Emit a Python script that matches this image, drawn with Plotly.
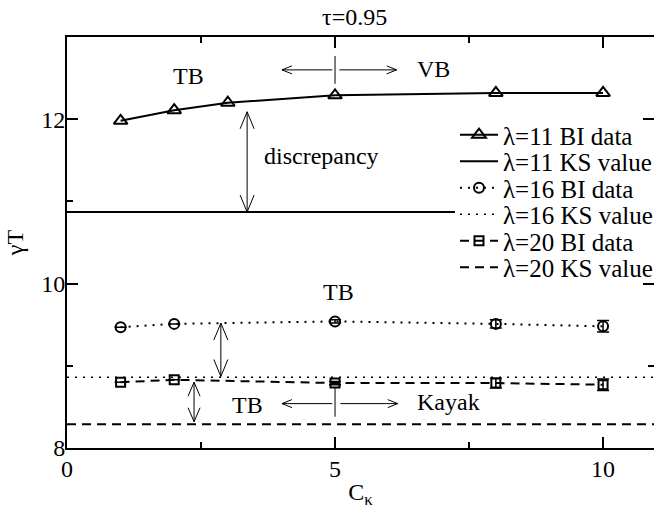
import plotly.graph_objects as go

# ---- data ----
ck11 = [1, 2, 3, 5, 8, 10]
bi11 = [11.98, 12.11, 12.20, 12.29, 12.32, 12.32]
ck16 = [1, 2, 5, 8, 10]
bi16 = [9.47, 9.51, 9.54, 9.51, 9.48]
err16 = [0, 0, 0.02, 0.05, 0.07]
ck20 = [1, 2, 5, 8, 10]
bi20 = [8.80, 8.83, 8.79, 8.79, 8.77]
err20 = [0, 0, 0.02, 0.06, 0.07]
ks11 = 10.87
ks16 = 8.86
ks20 = 8.29
x_span = [0, 11]
x_ticks = [0, 5, 10]
y_ticks = [8, 10, 12]
legend_names = ["λ=11 BI data", "λ=11 KS value", "λ=16 BI data",
                "λ=16 KS value", "λ=20 BI data", "λ=20 KS value"]

FONT = "Liberation Serif"
W, H = 654, 510
ML, MR, MT, MB = 67, 0, 37, 62
XR = [0, 10.95]
YR = [8, 13]
PW = W - ML - MR
PH = H - MT - MB
SX = PW / (XR[1] - XR[0])  # px per x unit
SY = PH / (YR[1] - YR[0])  # px per y unit

legend_ids = ["legend", "legend2", "legend3", "legend4", "legend5", "legend6"]

fig = go.Figure()

fig.add_trace(go.Scatter(
    x=ck11, y=bi11, mode="lines+markers", name=legend_names[0], legend=legend_ids[0],
    line=dict(color="black", width=2),
    marker=dict(symbol="triangle-up-open", size=12, color="black", line=dict(width=2, color="black"))))
fig.add_trace(go.Scatter(
    x=x_span, y=[ks11, ks11], mode="lines", name=legend_names[1], legend=legend_ids[1],
    line=dict(color="black", width=2)))
fig.add_trace(go.Scatter(
    x=ck16, y=bi16, mode="lines+markers", name=legend_names[2], legend=legend_ids[2],
    line=dict(color="black", width=2, dash="2px,6px"),
    marker=dict(symbol="circle-open", size=10, color="black", line=dict(width=2, color="black")),
    error_y=dict(type="data", array=err16, color="black", thickness=1.5, width=6)))
fig.add_trace(go.Scatter(
    x=x_span, y=[ks16, ks16], mode="lines", name=legend_names[3], legend=legend_ids[3],
    line=dict(color="black", width=1.5, dash="2px,6px")))
fig.add_trace(go.Scatter(
    x=ck20, y=bi20, mode="lines+markers", name=legend_names[4], legend=legend_ids[4],
    line=dict(color="black", width=2, dash="9px,6px"),
    marker=dict(symbol="square-open", size=9, color="black", line=dict(width=2, color="black")),
    error_y=dict(type="data", array=err20, color="black", thickness=1.5, width=6)))
fig.add_trace(go.Scatter(
    x=x_span, y=[ks20, ks20], mode="lines", name=legend_names[5], legend=legend_ids[5],
    line=dict(color="black", width=2, dash="9px,6px")))

# invisible trace on right axis so that mirrored ticks appear without a line
fig.add_trace(go.Scatter(x=[None], y=[None], yaxis="y2", showlegend=False, hoverinfo="skip"))

shapes = []


def seg(x0, y0, x1, y1, w=1):
    shapes.append(dict(type="line", xref="x", yref="y", x0=x0, y0=y0, x1=x1, y1=y1,
                       line=dict(color="black", width=w)))


def head(xt, yt, xf, yf, L, Hw):
    # open V arrowhead at tip (xt,yt) pointing away from (xf,yf), sizes in px
    dxp = (xt - xf) * SX
    dyp = (yt - yf) * SY
    n = (dxp ** 2 + dyp ** 2) ** 0.5
    ux, uy = dxp / n, dyp / n
    px, py = -uy, ux
    for s in (1, -1):
        bx = -ux * L + s * px * Hw
        by = -uy * L + s * py * Hw
        seg(xt, yt, xt + bx / SX, yt + by / SY)


def arrow(x0, y0, x1, y1, L, Hw, both=False):
    seg(x0, y0, x1, y1)
    head(x1, y1, x0, y0, L, Hw)
    if both:
        head(x0, y0, x1, y1, L, Hw)


# top: TB <-|-> VB
seg(5, 12.43, 5, 12.77)
arrow(4.95, 12.60, 4.01, 12.60, 10, 4)
arrow(5.08, 12.60, 6.15, 12.60, 10, 4)
# discrepancy
arrow(3.36, 10.87, 3.36, 12.09, 17, 7, both=True)
# middle double arrow
arrow(2.87, 8.87, 2.87, 9.52, 17, 7, both=True)
# lower double arrow
arrow(2.37, 8.32, 2.37, 8.80, 14, 6, both=True)
# bottom: TB <-|-> Kayak
seg(5, 8.38, 5, 8.74)
arrow(4.95, 8.54, 4.01, 8.54, 10, 4)
arrow(5.1, 8.54, 6.17, 8.54, 10, 4)

afont = dict(family=FONT, size=24, color="black")
annotations = [
    dict(x=2.26, y=12.52, text="TB"),
    dict(x=6.83, y=12.61, text="VB"),
    dict(x=4.75, y=11.55, text="discrepancy"),
    dict(x=5.06, y=9.90, text="TB"),
    dict(x=3.36, y=8.52, text="TB"),
    dict(x=7.11, y=8.56, text="Kayak"),
]
for a in annotations:
    a.update(xref="x", yref="y", showarrow=False, font=afont)

annotations.append(dict(x=(354 - ML) / PW, y=1, xref="paper", yref="paper",
                        yanchor="bottom", yshift=5, showarrow=False,
                        text="τ=0.95", font=dict(family=FONT, size=24, color="black")))

# white backing behind the legend block (hides the KS line like the reference)
shapes.append(dict(type="rect", xref="paper", yref="paper", layer="above",
                   x0=(455 - ML) / PW, x1=1, y0=(448 - 280) / PH, y1=(448 - 122) / PH,
                   fillcolor="white", line=dict(width=0)))

row_centers_px = [135, 161.5, 188, 214.5, 241, 267.5]
legend_layouts = {}
for lid, yc in zip(legend_ids, row_centers_px):
    legend_layouts[lid] = dict(
        x=(455 - ML) / PW, y=(448 - yc) / PH, xanchor="left", yanchor="middle",
        bgcolor="rgba(0,0,0,0)", borderwidth=0, itemwidth=38,
        font=dict(family=FONT, size=25, color="black"))

fig.update_layout(
    width=W, height=H,
    margin=dict(l=ML, r=MR, t=MT, b=MB, autoexpand=False),
    plot_bgcolor="white", paper_bgcolor="white",
    font=dict(family=FONT, size=24, color="black"),
    shapes=shapes, annotations=annotations,
    showlegend=True,
    xaxis=dict(range=XR, tickvals=x_ticks, ticks="inside", ticklen=11, tickwidth=2,
               tickcolor="black", showline=True, linewidth=2, linecolor="black",
               mirror="ticks", showgrid=False, zeroline=False, ticklabelstandoff=-2,
               minor=dict(dtick=2.5, tick0=0, ticks="inside", ticklen=6, tickwidth=2,
                          tickcolor="black", showgrid=False),
               tickfont=dict(family=FONT, size=24),
               title=dict(text="C<sub>κ</sub>", font=dict(family=FONT, size=24), standoff=2)),
    yaxis=dict(range=YR, tickvals=y_ticks, ticks="inside", ticklen=11, tickwidth=2,
               tickcolor="black", showline=True, linewidth=2, linecolor="black",
               mirror=False, showgrid=False, zeroline=False, ticklabelstandoff=-5,
               minor=dict(dtick=1, tick0=8, ticks="inside", ticklen=6, tickwidth=2,
                          tickcolor="black", showgrid=False),
               tickfont=dict(family=FONT, size=24),
               title=dict(text="γT", font=dict(family=FONT, size=24), standoff=11)),
    yaxis2=dict(range=YR, overlaying="y", side="right", anchor="x", tickvals=y_ticks,
                ticks="inside", ticklen=11, tickwidth=2, tickcolor="black",
                showticklabels=False, showline=False, showgrid=False, zeroline=False,
                minor=dict(dtick=1, tick0=8, ticks="inside", ticklen=6, tickwidth=2,
                           tickcolor="black", showgrid=False)),
    **legend_layouts,
)

fig.write_html("out.html")
